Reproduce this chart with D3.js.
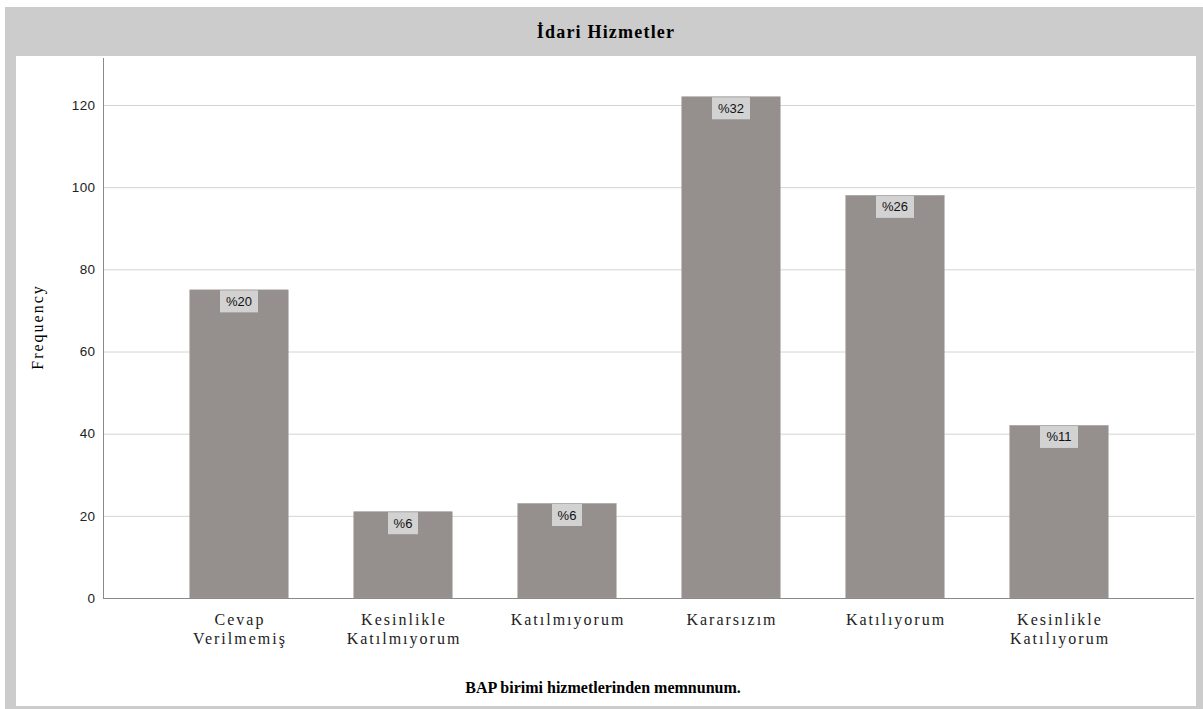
<!DOCTYPE html>
<html>
<head>
<meta charset="utf-8">
<script src="https://cdn.jsdelivr.net/npm/d3@7"></script>
<style>
  body { margin: 0; background: #fff; }
  .serif { font-family: "Liberation Serif", "Times New Roman", "DejaVu Serif", serif; }
  .sans { font-family: "Liberation Sans", Arial, "DejaVu Sans", sans-serif; }
</style>
</head>
<body>
<div id="plot"></div>
<script>
// Chart data
var categories = ["Cevap\nVerilmemiş", "Kesinlikle\nKatılmıyorum", "Katılmıyorum", "Kararsızım", "Katılıyorum", "Kesinlikle\nKatılıyorum"];
var frequencies = [75, 21, 23, 122, 98, 42];
var percentLabels = ["%20", "%6", "%6", "%32", "%26", "%11"];
var yTicks = [0, 20, 40, 60, 80, 100, 120];

var W = 1203, H = 709;

var svg = d3.select("#plot")
  .append("svg")
    .attr("width", W)
    .attr("height", H);

// Outer gray frame + white inner area
svg.append("rect")
  .attr("x", 5).attr("y", 7)
  .attr("width", W - 5).attr("height", H - 7)
  .attr("fill", "#cccccc");
svg.append("rect")
  .attr("x", 16).attr("y", 56)
  .attr("width", 1196 - 16).attr("height", 706 - 56)
  .attr("fill", "#ffffff");

// Title
svg.append("text")
  .attr("class", "serif")
  .attr("x", 606)
  .attr("y", 38)
  .attr("text-anchor", "middle")
  .style("font-weight", "bold")
  .style("font-size", "18px")
  .style("letter-spacing", "1.2px")
  .text("İdari Hizmetler");

var plotLeft = 103, plotRight = 1195, plotTop = 58;

var y = d3.scaleLinear()
  .domain([0, 120])
  .range([598, 105]);

var x = d3.scaleBand()
  .domain(categories)
  .range([157, 1141])
  .paddingInner(0.4)
  .paddingOuter(0.2);

// Gridlines
svg.append("g")
  .selectAll("line")
  .data(yTicks.filter(d => d > 0))
  .join("line")
    .attr("x1", plotLeft).attr("x2", plotRight)
    .attr("y1", d => y(d) + 0.5).attr("y2", d => y(d) + 0.5)
    .attr("stroke", "#d4d4d4")
    .attr("stroke-width", 1);

// Y axis
var yAxis = svg.append("g")
  .attr("transform", `translate(${plotLeft + 0.5},0)`)
  .call(d3.axisLeft(y).tickValues(yTicks).tickSize(0).tickPadding(8));
yAxis.select(".domain").remove();
yAxis.selectAll("text")
  .attr("class", "sans")
  .style("font-size", "13.5px")
  .style("letter-spacing", "0.4px")
  .attr("fill", "#222");
svg.append("line")
  .attr("x1", plotLeft + 0.5).attr("x2", plotLeft + 0.5)
  .attr("y1", plotTop).attr("y2", 598)
  .attr("stroke", "#8a8a8a");

// Bars
svg.append("g")
  .selectAll("rect")
  .data(frequencies)
  .join("rect")
    .attr("x", (d, i) => x(categories[i]))
    .attr("y", d => y(d))
    .attr("width", x.bandwidth())
    .attr("height", d => y(0) - y(d))
    .attr("fill", "#958f8e")
    .attr("stroke", "#a39e9d")
    .attr("stroke-width", 0.6);

// X axis line
svg.append("line")
  .attr("x1", plotLeft).attr("x2", plotRight - 1)
  .attr("y1", 598.5).attr("y2", 598.5)
  .attr("stroke", "#8a8a8a");

// Percent labels
var labels = svg.append("g")
  .selectAll("g")
  .data(frequencies)
  .join("g")
    .attr("transform", (d, i) => `translate(${x(categories[i]) + x.bandwidth() / 2},${y(d)})`);
labels.append("rect")
  .attr("x", (d, i) => -(percentLabels[i].length * 8 + 14) / 2)
  .attr("y", 0.5)
  .attr("width", (d, i) => percentLabels[i].length * 8 + 14)
  .attr("height", 22)
  .attr("fill", "#d2d2d2");
labels.append("text")
  .attr("class", "sans")
  .attr("y", 16)
  .attr("text-anchor", "middle")
  .style("font-size", "13px")
  .attr("fill", "#111")
  .text((d, i) => percentLabels[i]);

// X tick labels (may wrap on two lines)
var xLabels = svg.append("g")
  .selectAll("text")
  .data(categories)
  .join("text")
    .attr("class", "serif")
    .attr("x", d => x(d) + x.bandwidth() / 2 + 1)
    .attr("y", 625)
    .attr("text-anchor", "middle")
    .style("font-size", "16px")
    .style("letter-spacing", "2px")
    .attr("fill", "#222");
xLabels.selectAll("tspan")
  .data(d => d.split("\n"))
  .join("tspan")
    .attr("x", function() { return d3.select(this.parentNode).attr("x"); })
    .attr("dy", (d, i) => i === 0 ? 0 : 19)
    .text(d => d);

// Axis titles
svg.append("text")
  .attr("class", "serif")
  .attr("transform", "translate(43,327) rotate(-90)")
  .attr("text-anchor", "middle")
  .style("font-size", "16px")
  .style("letter-spacing", "2px")
  .text("Frequency");

svg.append("text")
  .attr("class", "serif")
  .attr("x", 603)
  .attr("y", 693)
  .attr("text-anchor", "middle")
  .style("font-weight", "bold")
  .style("font-size", "16px")
  .text("BAP birimi hizmetlerinden memnunum.");
</script>
</body>
</html>
